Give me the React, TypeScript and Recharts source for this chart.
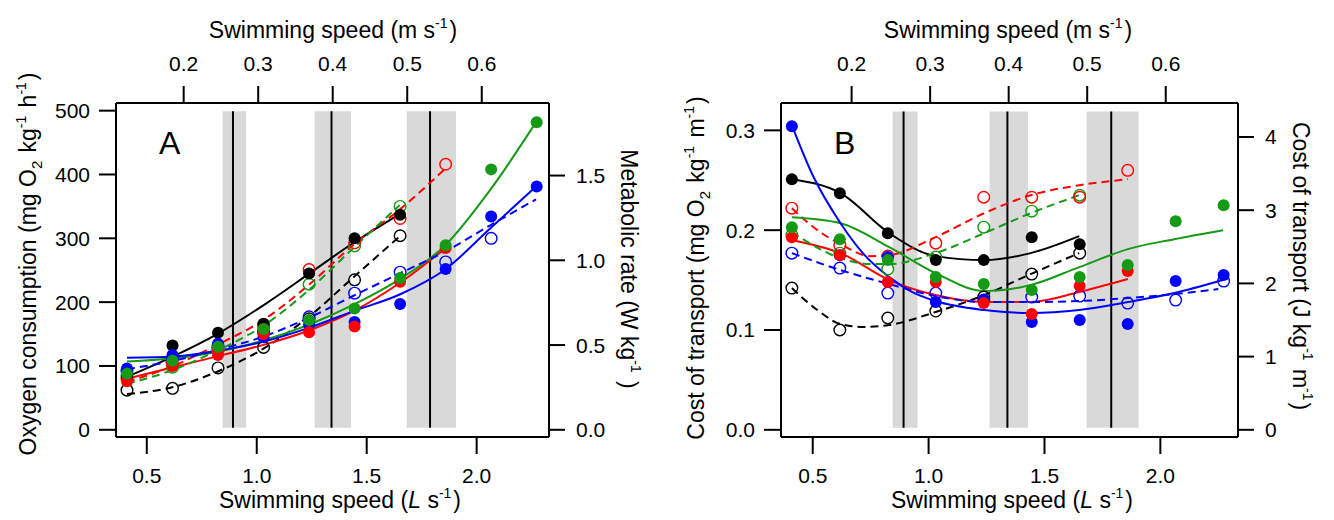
import React from 'react';
import { ComposedChart, Line, XAxis, YAxis, ReferenceArea, ReferenceLine } from 'recharts';

const FONT = "'Liberation Sans', Arial, Helvetica, sans-serif";
const RED = '#ff0000';
const GREEN = '#149a14';
const BLUE = '#0000ff';
const BLACK = '#000000';

// swimming speeds (L s-1) of the test steps
const speeds = [0.41, 0.617, 0.824, 1.031, 1.238, 1.445, 1.652, 1.859, 2.066, 2.273];

// shaded bands and their mid lines (L s-1)
const bands = [[0.845, 0.952], [1.263, 1.429], [1.682, 1.906]];
const bandLines = [0.892, 1.34, 1.788];

// A: oxygen consumption (mg O2 kg-1 h-1)
const blackFilledA = [83, 132, 152, 166, 245, 300, 337, null, null, null];
const blackOpenA = [62, 65, 97, 129, 174, 235, 304, null, null, null];
const redFilledA = [76, 100, 117, 150, 153, 162, 232, 285, null, null];
const redOpenA = [80, 103, 125, 165, 251, 293, 331, 416, null, null];
const greenFilledA = [88, 108, 130, 158, 172, 190, 238, 289, 408, 482];
const greenOpenA = [84, 98, 125, 160, 228, 288, 350, null, null, null];
const blueFilledA = [96, 117, 135, 145, 165, 169, 197, 252, 334, 381];
const blueOpenA = [92, 112, 132, 153, 177, 214, 247, 263, 300, null];

// A: fitted curves [speed, value]
const blackFitA = [[0.41, 83], [0.62, 115], [0.82, 150], [1.03, 195], [1.24, 245], [1.44, 293], [1.65, 338]];
const blackDashA = [[0.41, 56], [0.62, 67], [0.82, 91], [1.03, 127], [1.24, 178], [1.44, 239], [1.65, 303]];
const redFitA = [[0.41, 80], [0.62, 98], [0.82, 115], [1.03, 133], [1.24, 156], [1.44, 186], [1.65, 230], [1.86, 285]];
const redDashA = [[0.41, 75], [0.62, 100], [0.82, 133], [1.03, 172], [1.24, 228], [1.44, 290], [1.65, 345], [1.86, 410]];
const greenFitA = [[0.41, 107], [0.62, 112], [0.82, 122], [1.03, 140], [1.24, 165], [1.44, 196], [1.65, 236], [1.86, 290], [2.06, 375], [2.27, 482]];
const greenDashA = [[0.41, 72], [0.62, 94], [0.82, 124], [1.03, 163], [1.24, 220], [1.44, 285], [1.65, 352]];
const blueFitA = [[0.41, 113], [0.62, 115], [0.82, 124], [1.03, 138], [1.24, 160], [1.44, 186], [1.65, 212], [1.86, 252], [2.06, 315], [2.27, 381]];
const blueDashA = [[0.41, 95], [0.62, 108], [0.82, 125], [1.03, 146], [1.24, 176], [1.44, 210], [1.65, 245], [1.86, 280], [2.06, 320], [2.27, 361]];

// B: cost of transport (mg O2 kg-1 m-1)
const blackFilledB = [0.251, 0.237, 0.197, 0.170, 0.170, 0.193, 0.186, null, null, null];
const blackOpenB = [0.142, 0.100, 0.112, 0.119, 0.133, 0.156, 0.177, null, null, null];
const redFilledB = [0.193, 0.175, 0.148, 0.148, 0.127, 0.116, 0.144, 0.159, null, null];
const redOpenB = [0.222, 0.185, 0.174, 0.187, 0.233, 0.233, 0.233, 0.260, null, null];
const greenFilledB = [0.203, 0.191, 0.170, 0.153, 0.146, 0.140, 0.153, 0.165, 0.209, 0.225];
const greenOpenB = [0.195, 0.177, 0.161, 0.173, 0.203, 0.219, 0.235, null, null, null];
const blueFilledB = [0.304, 0.175, 0.173, 0.128, 0.130, 0.108, 0.110, 0.106, 0.149, 0.155];
const blueOpenB = [0.177, 0.162, 0.137, 0.137, 0.130, 0.133, 0.134, 0.127, 0.130, 0.149];

// B: fitted curves [speed, value]
const blackFitB = [[0.41, 0.251], [0.62, 0.237], [0.83, 0.197], [1.03, 0.174], [1.24, 0.170], [1.44, 0.177], [1.65, 0.194]];
const blackDashB = [[0.41, 0.142], [0.52, 0.120], [0.62, 0.106], [0.72, 0.103], [0.83, 0.105], [1.03, 0.118], [1.24, 0.135], [1.44, 0.156], [1.65, 0.177]];
const redFitB = [[0.41, 0.190], [0.62, 0.177], [0.83, 0.150], [1.03, 0.135], [1.24, 0.128], [1.44, 0.128], [1.65, 0.138], [1.86, 0.151]];
const redDashB = [[0.41, 0.222], [0.52, 0.200], [0.62, 0.186], [0.75, 0.174], [0.83, 0.175], [1.03, 0.193], [1.24, 0.217], [1.44, 0.235], [1.65, 0.245], [1.86, 0.251]];
const greenFitB = [[0.41, 0.213], [0.62, 0.207], [0.83, 0.183], [1.03, 0.157], [1.24, 0.139], [1.44, 0.145], [1.65, 0.163], [1.86, 0.181], [2.06, 0.191], [2.27, 0.200]];
const greenDashB = [[0.41, 0.198], [0.62, 0.172], [0.75, 0.166], [0.83, 0.166], [1.03, 0.177], [1.24, 0.197], [1.44, 0.217], [1.65, 0.235]];
const blueFitB = [[0.41, 0.305], [0.5, 0.255], [0.62, 0.207], [0.72, 0.176], [0.83, 0.153], [0.93, 0.138], [1.03, 0.129], [1.24, 0.120], [1.44, 0.117], [1.65, 0.120], [1.86, 0.128], [2.06, 0.137], [2.27, 0.150]];
const blueDashB = [[0.41, 0.177], [0.62, 0.160], [0.83, 0.146], [1.03, 0.134], [1.24, 0.128], [1.44, 0.128], [1.65, 0.129], [1.86, 0.132], [2.06, 0.136], [2.25, 0.141]];

const bottomTicks = [0.5, 1.0, 1.5, 2.0];
const topTicks = [0.2, 0.3, 0.4, 0.5, 0.6]; // m s-1
const leftTicksA = [0, 100, 200, 300, 400, 500];
const rightTicksA = [0, 0.5, 1.0, 1.5];
const leftTicksB = [0, 0.1, 0.2, 0.3];
const rightTicksB = [0, 1, 2, 3, 4];

// m s-1 <-> L s-1 (fish length ~0.295 m)
const M_PER_L = 0.2951;
const toL = (m: number) => m / M_PER_L - 0.01;
const toM = (l: number) => (l + 0.01) * M_PER_L;

const toRows = (pairs: number[][]) => pairs.map(([x, y]) => ({ x, y }));

const pointRows = (series: Record<string, (number | null)[]>) =>
    speeds.map((x, i) => {
        const row: Record<string, number | null> = { x };
        Object.keys(series).forEach((k) => { row[k] = series[k][i]; });
        return row;
    });

const tickStyle = { fill: '#000', fontSize: 21, fontFamily: FONT };
const axisStroke = { stroke: '#000', strokeWidth: 2 };

const makeDot = (color: string, filled: boolean) => (props: any) => {
    const { cx, cy, index, value } = props;
    if (cx == null || cy == null || value == null) return <g key={`d-${index}`} />;
    return (
        <circle
            key={`d-${index}`}
            cx={cx}
            cy={cy}
            r={filled ? 6 : 5.8}
            fill={filled ? color : 'none'}
            stroke={color}
            strokeWidth={filled ? 0 : 1.4}
        />
    );
};

function Panel({ curves, points, leftDomain, rightDomain, leftTicks, rightTicks, leftFmt, rightFmt, xDomain, leftWidth, rightWidth, bandTop, bandBottom }: any) {
    const rows = pointRows(points.values);
    return (
        <ComposedChart width={667} height={520} data={rows} margin={{ top: 0, right: 0, bottom: 0, left: 0 }}>
            <XAxis
                dataKey="x"
                type="number"
                domain={xDomain}
                allowDataOverflow
                ticks={bottomTicks}
                tickFormatter={(v: number) => v.toFixed(1)}
                height={83}
                tickSize={17}
                tickMargin={14}
                tick={tickStyle}
                axisLine={axisStroke}
                tickLine={axisStroke}
            />
            <XAxis
                xAxisId="top"
                dataKey="x"
                orientation="top"
                type="number"
                domain={xDomain}
                allowDataOverflow
                ticks={topTicks.map(toL)}
                tickFormatter={(v: number) => toM(v).toFixed(1)}
                height={103}
                tickSize={17}
                tickMargin={15}
                tick={tickStyle}
                axisLine={axisStroke}
                tickLine={axisStroke}
            />
            <YAxis
                yAxisId="left"
                type="number"
                domain={leftDomain}
                allowDataOverflow
                ticks={leftTicks}
                tickFormatter={leftFmt}
                width={leftWidth}
                tickSize={17}
                tickMargin={9}
                tick={tickStyle}
                axisLine={axisStroke}
                tickLine={axisStroke}
            />
            <YAxis
                yAxisId="right"
                orientation="right"
                type="number"
                domain={rightDomain}
                allowDataOverflow
                ticks={rightTicks}
                tickFormatter={rightFmt}
                width={rightWidth}
                tickSize={16}
                tickMargin={11}
                tick={tickStyle}
                axisLine={axisStroke}
                tickLine={axisStroke}
            />
            {bands.map(([x1, x2], i) => (
                <ReferenceArea key={`band-${i}`} yAxisId="left" x1={x1} x2={x2} y1={bandBottom} y2={bandTop} fill="#d9d9d9" fillOpacity={1} stroke="none" />
            ))}
            {bandLines.map((x, i) => (
                <ReferenceLine key={`bl-${i}`} yAxisId="left" segment={[{ x, y: bandBottom }, { x, y: bandTop }]} stroke="#000" strokeWidth={2} />
            ))}
            {/* keeps the top (m s-1) axis tied to the data */}
            <Line xAxisId="top" yAxisId="left" dataKey="kF" stroke="none" dot={false} activeDot={false} isAnimationActive={false} />
            {curves.map((c: any) => (
                <Line
                    key={c.key}
                    yAxisId="left"
                    data={toRows(c.data)}
                    dataKey="y"
                    type="monotone"
                    stroke={c.color}
                    strokeWidth={2}
                    strokeDasharray={c.dashed ? '8 5' : undefined}
                    dot={false}
                    activeDot={false}
                    isAnimationActive={false}
                />
            ))}
            {points.order.map((p: any) => (
                <Line
                    key={p.key}
                    yAxisId="left"
                    dataKey={p.key}
                    stroke="none"
                    dot={makeDot(p.color, p.filled)}
                    activeDot={false}
                    isAnimationActive={false}
                />
            ))}
        </ComposedChart>
    );
}

const Sup = ({ children }: any) => (
    <>
        <tspan dy={-10} fontSize={14}>{children}</tspan>
        <tspan dy={10}>{'\u200A'}</tspan>
    </>
);
const Sub = ({ children }: any) => (
    <>
        <tspan dy={6} fontSize={15}>{children}</tspan>
        <tspan dy={-6}>{'\u200A'}</tspan>
    </>
);

const pointOrder = [
    { key: 'kO', color: BLACK, filled: false },
    { key: 'bO', color: BLUE, filled: false },
    { key: 'gO', color: GREEN, filled: false },
    { key: 'rO', color: RED, filled: false },
    { key: 'kF', color: BLACK, filled: true },
    { key: 'bF', color: BLUE, filled: true },
    { key: 'rF', color: RED, filled: true },
    { key: 'gF', color: GREEN, filled: true },
];

export default function App() {
    const curvesA = [
        { key: 'kS', data: blackFitA, color: BLACK },
        { key: 'kD', data: blackDashA, color: BLACK, dashed: true },
        { key: 'rS', data: redFitA, color: RED },
        { key: 'rD', data: redDashA, color: RED, dashed: true },
        { key: 'gS', data: greenFitA, color: GREEN },
        { key: 'gD', data: greenDashA, color: GREEN, dashed: true },
        { key: 'bS', data: blueFitA, color: BLUE },
        { key: 'bD', data: blueDashA, color: BLUE, dashed: true },
    ];
    const curvesB = [
        { key: 'kS', data: blackFitB, color: BLACK },
        { key: 'kD', data: blackDashB, color: BLACK, dashed: true },
        { key: 'rS', data: redFitB, color: RED },
        { key: 'rD', data: redDashB, color: RED, dashed: true },
        { key: 'gS', data: greenFitB, color: GREEN },
        { key: 'gD', data: greenDashB, color: GREEN, dashed: true },
        { key: 'bS', data: blueFitB, color: BLUE },
        { key: 'bD', data: blueDashB, color: BLUE, dashed: true },
    ];
    const pointsA = {
        values: { kF: blackFilledA, kO: blackOpenA, rF: redFilledA, rO: redOpenA, gF: greenFilledA, gO: greenOpenA, bF: blueFilledA, bO: blueOpenA },
        order: pointOrder,
    };
    const pointsB = {
        values: { kF: blackFilledB, kO: blackOpenB, rF: redFilledB, rO: redOpenB, gF: greenFilledB, gO: greenOpenB, bF: blueFilledB, bO: blueOpenB },
        order: pointOrder,
    };

    return (
        <div style={{ position: 'absolute', left: 0, top: 0, width: 1334, height: 520, background: '#fff', fontFamily: FONT }}>
            <div style={{ position: 'absolute', left: 0, top: 0 }}>
                <Panel
                    curves={curvesA}
                    points={pointsA}
                    xDomain={[0.36, 2.329]}
                    leftDomain={[-11.3, 512]}
                    rightDomain={[-0.0425, 1.928]}
                    leftTicks={leftTicksA}
                    rightTicks={rightTicksA}
                    leftFmt={(v: number) => String(v)}
                    rightFmt={(v: number) => v.toFixed(1)}
                    leftWidth={116}
                    rightWidth={118}
                    bandBottom={3}
                    bandTop={499}
                />
            </div>
            <div style={{ position: 'absolute', left: 667, top: 0 }}>
                <Panel
                    curves={curvesB}
                    points={pointsB}
                    xDomain={[0.3631, 2.335]}
                    leftDomain={[-0.0072, 0.3274]}
                    rightDomain={[-0.098, 4.464]}
                    leftTicks={leftTicksB}
                    rightTicks={rightTicksB}
                    leftFmt={(v: number) => v.toFixed(1)}
                    rightFmt={(v: number) => String(v)}
                    leftWidth={114}
                    rightWidth={96}
                    bandBottom={0.002}
                    bandTop={0.319}
                />
            </div>
            <svg width={1334} height={520} style={{ position: 'absolute', left: 0, top: 0, pointerEvents: 'none' }} fontFamily={FONT} fill="#000">
                {/* panel A titles */}
                <text x={333} y={38} fontSize={23} textAnchor="middle">Swimming speed (m s<Sup>-1</Sup>)</text>
                <text x={340} y={508} fontSize={23} textAnchor="middle">Swimming speed (<tspan fontStyle="italic">L</tspan> s<Sup>-1</Sup>)</text>
                <text x={36} y={264} fontSize={23} textAnchor="middle" transform="rotate(-90 36 264)">
                    Oxygen consumption (mg O<Sub>2</Sub> kg<Sup>-1</Sup> h<Sup>-1</Sup>)
                </text>
                <text x={621} y={269} fontSize={23} textAnchor="middle" transform="rotate(90 621 269)">
                    Metabolic rate (W kg<Sup>-1</Sup> )
                </text>
                <text x={159} y={154} fontSize={32}>A</text>
                {/* panel B titles */}
                <text x={1008} y={38} fontSize={23} textAnchor="middle">Swimming speed (m s<Sup>-1</Sup>)</text>
                <text x={1012} y={508} fontSize={23} textAnchor="middle">Swimming speed (<tspan fontStyle="italic">L</tspan> s<Sup>-1</Sup>)</text>
                <text x={704} y={268} fontSize={23} textAnchor="middle" transform="rotate(-90 704 268)">
                    Cost of transport (mg O<Sub>2</Sub> kg<Sup>-1</Sup> m<Sup>-1</Sup>)
                </text>
                <text x={1293} y={266} fontSize={23} textAnchor="middle" transform="rotate(90 1293 266)">
                    Cost of transport (J kg<Sup>-1</Sup> m<Sup>-1</Sup>)
                </text>
                <text x={834} y={154} fontSize={32}>B</text>
            </svg>
        </div>
    );
}
